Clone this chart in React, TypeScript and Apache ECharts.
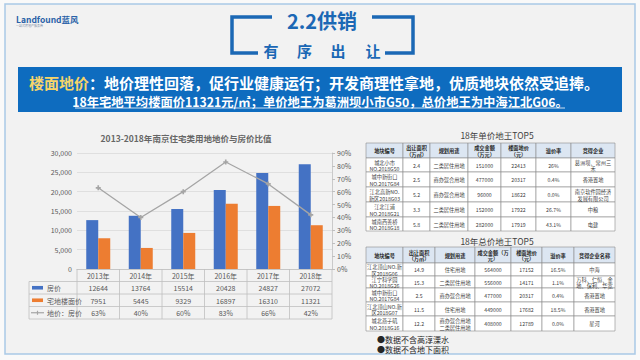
import React, { useEffect, useRef } from "react";
import * as echarts from "echarts";

const FONT = "'Noto Sans CJK SC', 'Noto Sans', sans-serif";

// ---- chart data ----
const years = ["2013年", "2014年", "2015年", "2016年", "2017年", "2018年"];
const housePrice = [12644, 13764, 15514, 20428, 24827, 27072];
const landPrice = [7951, 5445, 9329, 16897, 16310, 11321];
const ratioPct = [63, 40, 60, 83, 66, 42];
const seriesNames = ["房价", "宅地楼面价", "地价：房价"];

// ---- tables ----
const unitTitle = "18年单价地王TOP5";
const unitHeader = ["地块编号", "出让面积\n（万㎡）", "规划用途", "成交金额\n（万元）", "楼面地价\n（元）", "溢价率", "竞得企业"];
const unitRows = [
  ["城北小市\nNO.2018G50", "2.4", "二类居住用地", "151000", "22413", "26%", "葛洲坝、常州三\n禾"],
  ["城中新街口\nNO.2017G84", "2.5", "商办混合用地", "477000", "20317", "0.4%", "香港置地"],
  ["江北高新NO.\n新区2018G03", "5.2", "商办混合用地", "96000", "18622", "0.0%", "南京软件园经济\n发展有限公司"],
  ["江北江浦\nNO.2018G21", "3.3", "二类居住用地", "152000", "17922", "26.7%", "中粮"],
  ["城南西善桥\nNO.2018G18", "5.8", "二类居住用地", "282000", "17919", "43.1%", "电建"],
];
const totalTitle = "18年总价地王TOP5";
const totalHeader = ["地块编号", "出让面积\n（万㎡）", "规划用途", "成交金额（万\n元）", "楼面地价\n（元）", "溢价率", "竞得企业名称"];
const totalRows = [
  ["江北顶山NO.新\n区2018G06", "14.9", "住宅用地", "564000", "17152", "16.5%", "中海"],
  ["江宁科学园\nNO.2018G26", "15.3", "二类居住用地", "556000", "14171", "1.1%", "万科、仁恒、金\n地、保利、华宽"],
  ["城中新街口\nNO.2017G84", "2.5", "商办混合用地", "477000", "20317", "0.4%", "香港置地"],
  ["江北顶山NO.新\n区2018G07", "11.5", "住宅用地", "449000", "17682", "18.5%", "香港置地"],
  ["城北燕子矶\nNO.2018G16", "12.2", "商办混合用地\n二类居住用地", "408000", "12789", "0.0%", "星河"],
];
const notes = ["●数据不含高淳溧水", "●数据不含地下面积"];

const headTitle = "2.2供销";
const headSub = ["有", "序", "出", "让"];
const bannerKey = "楼面地价";
const bannerLine1 = "：地价理性回落，促行业健康运行；开发商理性拿地，优质地块依然受追捧。";
const bannerLine2 = "18年宅地平均楼面价11321元/㎡；单价地王为葛洲坝小市G50，总价地王为中海江北G06。";
const chartTitle = "2013-2018年南京住宅类用地地价与房价比值";

const BLUE = "#4472c4";
const ORANGE = "#ed7d31";
const GRAY = "#a5a5a5";

const GRID = { left: 77, top: 153, width: 255, height: 116 };

function txt(x: number, y: number, text: string, o: any = {}) {
  return {
    type: "text",
    x,
    y,
    z: o.z ?? 10,
    style: {
      text,
      fontFamily: FONT,
      fontSize: o.fontSize ?? 7,
      fontWeight: o.fontWeight ?? "normal",
      fill: o.fill ?? "#595959",
      align: o.align ?? "center",
      verticalAlign: o.verticalAlign ?? "middle",
      lineHeight: o.lineHeight,
      rich: o.rich,
    },
  };
}
function ln(x1: number, y1: number, x2: number, y2: number, stroke = "#bfbfbf", lw = 0.8) {
  return { type: "line", z: 10, shape: { x1, y1, x2, y2 }, style: { stroke, lineWidth: lw } };
}

function buildTable(cols: number[], rows: number[], header: string[], body: string[][]) {
  const els: any[] = [];
  for (let r = 0; r < rows.length - 1; r++) {
    const cells = r === 0 ? header : body[r - 1];
    for (let c = 0; c < cols.length - 1; c++) {
      const x = cols[c], y = rows[r], w = cols[c + 1] - x, h = rows[r + 1] - y;
      els.push({
        type: "rect",
        z: 9,
        shape: { x, y, width: w, height: h },
        style: { fill: r === 0 ? "#dce6f2" : "#ffffff", stroke: "#8a8a8a", lineWidth: 0.6 },
      });
      els.push(
        txt(x + w / 2, y + h / 2 + 0.3, cells[c], {
          fontSize: 5.2,
          lineHeight: 6.5,
          fontWeight: r === 0 ? "bold" : "normal",
          fill: r === 0 ? "#262626" : "#404040",
        })
      );
    }
  }
  return els;
}

function buildDataTable() {
  const els: any[] = [];
  const colW = GRID.width / years.length;
  const x0 = GRID.left, xR = GRID.left + GRID.width, yTop = GRID.top + GRID.height;
  const rowH = 12.5;
  const legX = 29;
  for (let r = 1; r <= 4; r++) els.push(ln(legX, yTop + r * rowH, xR, yTop + r * rowH));
  els.push(ln(legX, yTop + rowH, legX, yTop + 4 * rowH));
  for (let i = 0; i <= years.length; i++) els.push(ln(x0 + i * colW, yTop, x0 + i * colW, yTop + 4 * rowH));
  years.forEach((y, i) => {
    const cx = x0 + (i + 0.5) * colW;
    els.push(txt(cx, yTop + rowH * 0.5 + 0.5, y));
    els.push(txt(cx, yTop + rowH * 1.5 + 0.5, String(housePrice[i])));
    els.push(txt(cx, yTop + rowH * 2.5 + 0.5, String(landPrice[i])));
    els.push(txt(cx, yTop + rowH * 3.5 + 0.5, ratioPct[i] + "%"));
  });
  const ky1 = yTop + rowH * 1.5, ky2 = yTop + rowH * 2.5, ky3 = yTop + rowH * 3.5;
  els.push({ type: "rect", z: 10, shape: { x: 32, y: ky1 - 1.8, width: 11, height: 3.6 }, style: { fill: BLUE } });
  els.push({ type: "rect", z: 10, shape: { x: 32, y: ky2 - 1.8, width: 11, height: 3.6 }, style: { fill: ORANGE } });
  els.push(ln(31, ky3, 44, ky3, GRAY, 1.2));
  els.push(ln(37.5, ky3 - 2, 37.5, ky3 + 2, GRAY, 1.2));
  els.push(txt(47, ky1 + 0.5, seriesNames[0], { align: "left" }));
  els.push(txt(47, ky2 + 0.5, seriesNames[1], { align: "left" }));
  els.push(txt(47, ky3 + 0.5, seriesNames[2], { align: "left" }));
  return els;
}

export default function App() {
  const ref = useRef<HTMLDivElement>(null);
  useEffect(() => {
    if (!ref.current) return;
    const chart = echarts.init(ref.current, undefined, { renderer: "svg" });
    const hb = "#1b68b5";
    const subX = [271, 304.5, 338, 373];
    const graphic: any[] = [
      { type: "rect", z: -10, shape: { x: 5, y: 4, width: 630, height: 350 }, style: { fill: "#f2f2f2", stroke: "#a9c9e6", lineWidth: 1.5 } },
      txt(16, 19, "Landfound蓝风", { align: "left", fontSize: 8.5, fontWeight: "bold", fill: "#2a62a8" }),
      txt(16, 26, "一站式房地产服务商", { align: "left", fontSize: 3, fill: "#7f8fa8" }),
      { type: "polyline", z: 10, shape: { points: [[272, 17], [232, 17], [232, 53], [258, 53]] }, style: { stroke: hb, lineWidth: 3.5, fill: null } },
      { type: "polyline", z: 10, shape: { points: [[372, 17], [413, 17], [413, 53], [385, 53]] }, style: { stroke: hb, lineWidth: 3.5, fill: null } },
      txt(322, 20, headTitle, { fontSize: 20, fontWeight: "bold", fill: hb }),
      ...headSub.map((ch, i) => txt(subX[i], 50, ch, { fontSize: 15, fontWeight: "bold", fill: hb })),
      { type: "rect", z: 5, shape: { x: 18, y: 67, width: 604, height: 45 }, style: { fill: "#0e6cbf" } },
      txt(29, 82, `{a|${bannerKey}}{b|${bannerLine1}}`, {
        align: "left",
        rich: {
          a: { fill: "#f6d46a", fontSize: 15, fontWeight: "bold", fontFamily: FONT },
          b: { fill: "#ffffff", fontSize: 15, fontWeight: "bold", fontFamily: FONT },
        },
      }),
      txt(320, 102, bannerLine2, { fontSize: 12.3, fontWeight: "bold", fill: "#ffffff" }),
      ln(75, 108, 565, 108, "#ffffff", 0.8),
      txt(186, 138, chartTitle, { fontSize: 8.5, fontWeight: "bold", fill: "#666666" }),
      ...buildDataTable(),
      txt(497, 135, unitTitle, { fontSize: 8.5, fill: "#404040" }),
      ...buildTable([366, 403, 430, 468, 501, 536, 571, 615], [143, 158, 172, 187, 202, 217, 231], unitHeader, unitRows),
      txt(497, 241, totalTitle, { fontSize: 8.5, fill: "#404040" }),
      ...buildTable([366, 403, 435, 475, 511, 542, 574, 615], [247, 263, 276, 288, 302, 316, 331], totalHeader, totalRows),
      txt(377, 339.5, notes[0], { align: "left", fontSize: 8, fill: "#262626" }),
      txt(377, 349.5, notes[1], { align: "left", fontSize: 8, fill: "#262626" }),
    ];
    chart.setOption({
      animation: false,
      backgroundColor: "#f9f9f9",
      textStyle: { fontFamily: FONT },
      grid: { left: GRID.left, top: GRID.top, width: GRID.width, height: GRID.height },
      xAxis: {
        type: "category",
        data: years,
        axisLabel: { show: false },
        axisTick: { show: false },
        axisLine: { show: true, lineStyle: { color: "#bfbfbf", width: 0.8 } },
      },
      yAxis: [
        {
          type: "value",
          min: 0,
          max: 30000,
          interval: 5000,
          axisLabel: { fontSize: 7, color: "#595959", margin: 5 },
          axisLine: { show: false },
          axisTick: { show: false },
          splitLine: { lineStyle: { color: "#d9d9d9", width: 0.8 } },
        },
        {
          type: "value",
          min: 0,
          max: 90,
          interval: 10,
          position: "right",
          axisLabel: { fontSize: 7, color: "#595959", margin: 5, formatter: "{value}%" },
          axisLine: { show: true, lineStyle: { color: "#bfbfbf", width: 0.8 } },
          axisTick: { show: true, length: 3, lineStyle: { color: "#bfbfbf" } },
          splitLine: { show: false },
        },
      ],
      series: [
        { name: seriesNames[0], type: "bar", data: housePrice, barWidth: 12, barGap: "0%", itemStyle: { color: BLUE } },
        { name: seriesNames[1], type: "bar", data: landPrice, barWidth: 12, barGap: "0%", itemStyle: { color: ORANGE } },
        {
          name: seriesNames[2],
          type: "line",
          yAxisIndex: 1,
          data: ratioPct,
          symbol: "path://M1,0H2V1H3V2H2V3H1V2H0V1H1Z",
          symbolSize: 5,
          lineStyle: { color: GRAY, width: 1.3 },
          itemStyle: { color: GRAY },
          z: 5,
        },
      ],
      graphic,
    });
    return () => chart.dispose();
  }, []);
  return <div ref={ref} style={{ position: "absolute", left: 0, top: 0, width: 640, height: 360 }} />;
}
